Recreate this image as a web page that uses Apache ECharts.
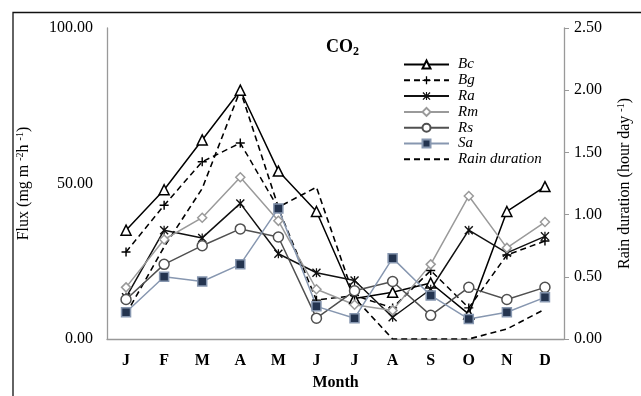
<!DOCTYPE html>
<html>
<head>
<meta charset="utf-8">
<script src="https://cdn.jsdelivr.net/npm/echarts@6/dist/echarts.min.js"></script>
<style>
  html, body { margin: 0; padding: 0; background: #fff; }
  #chart { width: 641px; height: 396px; }
</style>
</head>
<body>
<div id="chart"></div>
<script>
// months
var months = ['J', 'F', 'M', 'A', 'M', 'J', 'J', 'A', 'S', 'O', 'N', 'D'];

// CO2 flux (mg m-2 h-1)
var bc = [35, 48, 64, 80, 54, 41, 13, 15, 18, 8, 41, 49];
var bg = [28, 43, 57, 63, 42, 12.5, 14, 10, 22, 10, 27, 31.5];
var ra = [13.4, 35, 32.5, 43.6, 27.4, 21.3, 18.8, 7, 16, 35, 27.7, 33];
var rm = [16.6, 32, 39, 52, 38, 16, 11, 9.2, 24, 46, 29.3, 37.6];
var rs = [12.7, 24, 30, 35.4, 32.8, 6.7, 15.5, 18.5, 7.6, 16.6, 12.7, 16.6];
var sa = [8.6, 20, 18.5, 24, 42, 10.5, 6.7, 26, 14, 6.4, 8.6, 13.4];

// rain duration (hour day-1), right axis
var rain = [0.2, 0.74, 1.21, 2.0, 1.06, 1.22, 0.33, 0, 0, 0, 0.08, 0.24];

var serif = '"Liberation Serif", "DejaVu Serif", serif';

var plus = 'path://M4.2,0H5.8V4.2H10V5.8H5.8V10H4.2V5.8H0V4.2H4.2Z';
var star = 'path://M0,1.1L1.1,0L5,3.9L8.9,0L10,1.1L6.1,5L10,8.9L8.9,10L5,6.1L1.1,10L0,8.9L3.9,5Z' +
           'M4.3,0H5.7V10H4.3Z';

function fluxSeries(name, data, color, symbol, size, fill, dash, border) {
    return {
        name: name,
        type: 'line',
        data: data,
        symbol: symbol,
        symbolSize: size,
        showAllSymbol: true,
        z: 3,
        lineStyle: { color: color, width: 1.5, type: dash || 'solid' },
        itemStyle: {
            color: fill,
            borderColor: border || color,
            borderWidth: fill === color ? 0 : 1.5
        },
        emphasis: { disabled: true }
    };
}

var chart = echarts.init(document.getElementById('chart'));

var option = {
    animation: false,
    backgroundColor: '#fff',
    textStyle: { fontFamily: serif },
    title: {
        text: 'CO{sub|2}',
        left: 321,
        top: 31,
        textStyle: {
            fontFamily: serif, fontSize: 18, fontWeight: 'bold', color: '#000',
            rich: {
                sub: { fontFamily: serif, fontSize: 12, fontWeight: 'bold', color: '#000', padding: [10, 0, 0, 0] }
            }
        }
    },
    legend: {
        orient: 'vertical',
        left: 398,
        top: 52,
        itemWidth: 45,
        itemHeight: 10,
        itemGap: 0.8,
        selectedMode: false,
        textStyle: { fontFamily: serif, fontStyle: 'italic', fontSize: 15, color: '#000', lineHeight: 15, padding: [0, 0, 0, 4] },
        data: ['Bc', 'Bg', 'Ra', 'Rm', 'Rs', 'Sa',
            { name: 'Rain duration', itemStyle: { opacity: 0 } }]
    },
    grid: { left: 107, right: 69, top: 28, bottom: 54 },
    xAxis: {
        type: 'category',
        data: months,
        boundaryGap: true,
        axisLine: { lineStyle: { color: '#999', width: 1.3 } },
        axisTick: { show: false },
        axisLabel: { fontFamily: serif, fontWeight: 'bold', fontSize: 16, color: '#000', margin: 14 },
        name: 'Month',
        nameLocation: 'middle',
        nameGap: 36,
        nameTextStyle: { fontFamily: serif, fontWeight: 'bold', fontSize: 16, color: '#000' }
    },
    yAxis: [
        {
            type: 'value',
            min: 0, max: 100, interval: 50,
            splitLine: { show: false },
            axisLine: { show: true, lineStyle: { color: '#999', width: 1.3 } },
            axisTick: { show: false },
            axisLabel: {
                fontFamily: serif, fontSize: 16, color: '#000', margin: 14,
                formatter: function (v) { return v.toFixed(2); }
            },
            name: 'Flux (mg m {sup|-2}h {sup|-1})',
            nameLocation: 'middle',
            nameRotate: 90,
            nameGap: 74,
            nameTextStyle: {
                fontFamily: serif, fontSize: 16, color: '#000',
                rich: { sup: { fontFamily: serif, fontSize: 10, color: '#000', padding: [0, 0, 8, 0] } }
            }
        },
        {
            type: 'value',
            min: 0, max: 2.5, interval: 0.5,
            position: 'right',
            splitLine: { show: false },
            axisLine: { show: true, lineStyle: { color: '#999', width: 1.3 } },
            axisTick: { show: true, length: 5, inside: false, lineStyle: { color: '#999' } },
            axisLabel: {
                fontFamily: serif, fontSize: 16, color: '#000', margin: 10,
                formatter: function (v) { return v.toFixed(2); }
            },
            name: 'Rain duration (hour day {sup|-1})',
            nameLocation: 'middle',
            nameRotate: 90,
            nameGap: 52,
            nameTextStyle: {
                fontFamily: serif, fontSize: 16, color: '#000',
                rich: { sup: { fontFamily: serif, fontSize: 10, color: '#000', padding: [0, 0, 8, 0] } }
            }
        }
    ],
    graphic: [
        {
            type: 'rect',
            shape: { x: 13, y: 12.5, width: 700, height: 500 },
            style: { fill: 'none', stroke: '#111', lineWidth: 1.3 },
            silent: true
        }
    ],
    series: [
        fluxSeries('Bc', bc, '#000', 'triangle', 10, '#fff'),
        fluxSeries('Bg', bg, '#000', plus, 9, '#000', [6, 4]),
        fluxSeries('Ra', ra, '#111', star, 9, '#111'),
        fluxSeries('Rm', rm, '#9a9a9a', 'diamond', 9, '#fff'),
        fluxSeries('Rs', rs, '#505050', 'circle', 10, '#fff'),
        fluxSeries('Sa', sa, '#8797b0', 'rect', 9, '#24344f', null, '#8797b0'),
        {
            name: 'Rain duration',
            type: 'line',
            yAxisIndex: 1,
            data: rain,
            symbol: 'none',
            z: 2,
            lineStyle: { color: '#000', width: 1.6, type: [6, 4] },
            itemStyle: { color: '#000' },
            emphasis: { disabled: true }
        }
    ]
};

chart.setOption(option);
</script>
</body>
</html>
